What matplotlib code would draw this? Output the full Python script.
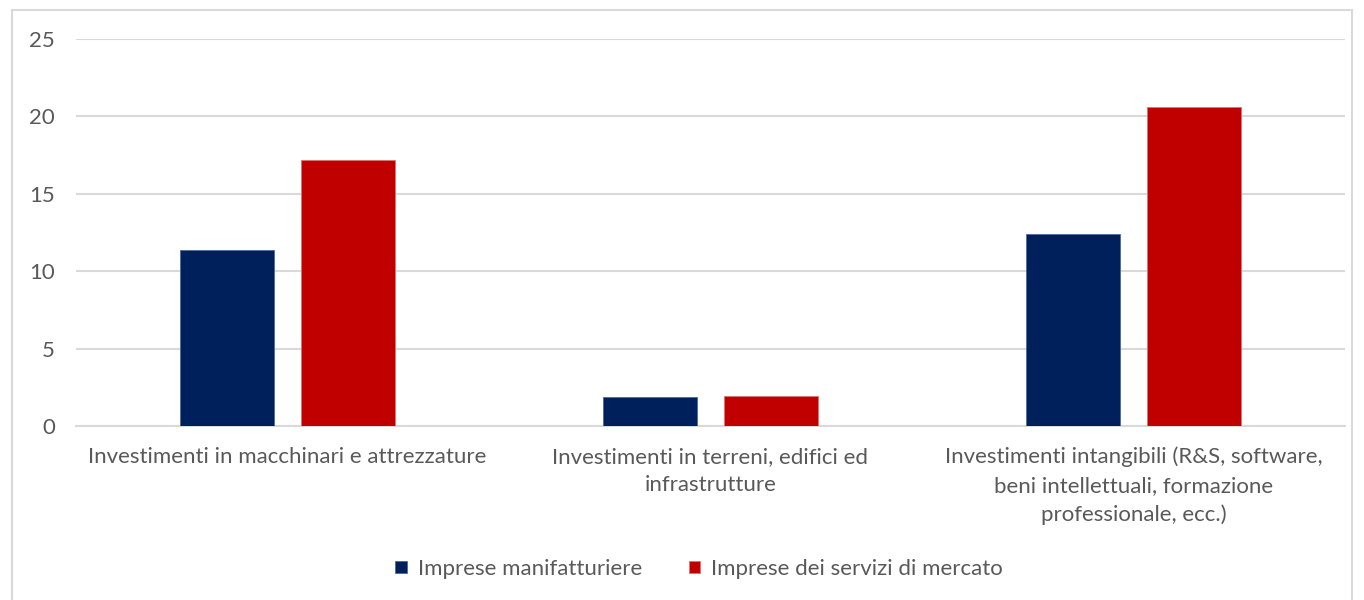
import numpy as np
import matplotlib.pyplot as plt
from matplotlib.patches import Rectangle

categories = [
    "Investimenti in macchinari e attrezzature",
    "Investimenti in terreni, edifici ed\ninfrastrutture",
    "Investimenti intangibili (R&S, software,\nbeni intellettuali, formazione\nprofessionale, ecc.)",
]
manifatturiere = [11.4, 1.85, 12.4]
servizi = [17.2, 1.95, 20.6]
series_names = ["Imprese manifatturiere", "Imprese dei servizi di mercato"]
yticks = [0, 5, 10, 15, 20, 25]

navy = "#00205b"
red = "#c00000"
grey_text = "#595959"

plt.rcParams["font.family"] = ["Lato", "DejaVu Sans"]

fig = plt.figure(figsize=(13.64, 6), dpi=100)
ax = fig.add_axes([76 / 1364, 1 - 426 / 600, 1269 / 1364, 387 / 600])

x = np.arange(len(categories))
w = 0.22
off = 0.143
ax.bar(x - off, manifatturiere, w, color=navy, edgecolor="#4a6a9a", linewidth=0.6,
       label=series_names[0], zorder=3)
ax.bar(x + off, servizi, w, color=red, edgecolor="#e07070", linewidth=0.6,
       label=series_names[1], zorder=3)

ax.set_xlim(-0.5, 2.5)
ax.set_ylim(0, 25)
ax.set_yticks(yticks)
ax.set_yticklabels([str(t) for t in yticks])
ax.set_xticks(x)
ax.set_xticklabels(categories, linespacing=1.52)
ax.tick_params(axis="both", length=0, labelsize=16, colors=grey_text)
ax.tick_params(axis="y", pad=15)
ax.tick_params(axis="x", pad=15)
ax.grid(axis="y", color="#d9d9d9", linewidth=1.5, zorder=0)
for s in ["top", "right", "left"]:
    ax.spines[s].set_visible(False)
ax.spines["bottom"].set_color("#d9d9d9")
ax.spines["bottom"].set_linewidth(1.5)

leg = fig.legend(loc="center", bbox_to_anchor=(699 / 1364, 1 - 569 / 600), ncol=2, frameon=False,
                 fontsize=16, handlelength=0.5, handleheight=0.5, columnspacing=2.1,
                 handletextpad=0.5)
for t in leg.get_texts():
    t.set_color(grey_text)

fig.patches.append(Rectangle((12 / 1364, -0.01), 1340 / 1364, 1 - 10 / 600 + 0.01,
                             transform=fig.transFigure, fill=False,
                             edgecolor="#d9d9d9", linewidth=1.5))

fig.savefig("out.png", dpi=100)
